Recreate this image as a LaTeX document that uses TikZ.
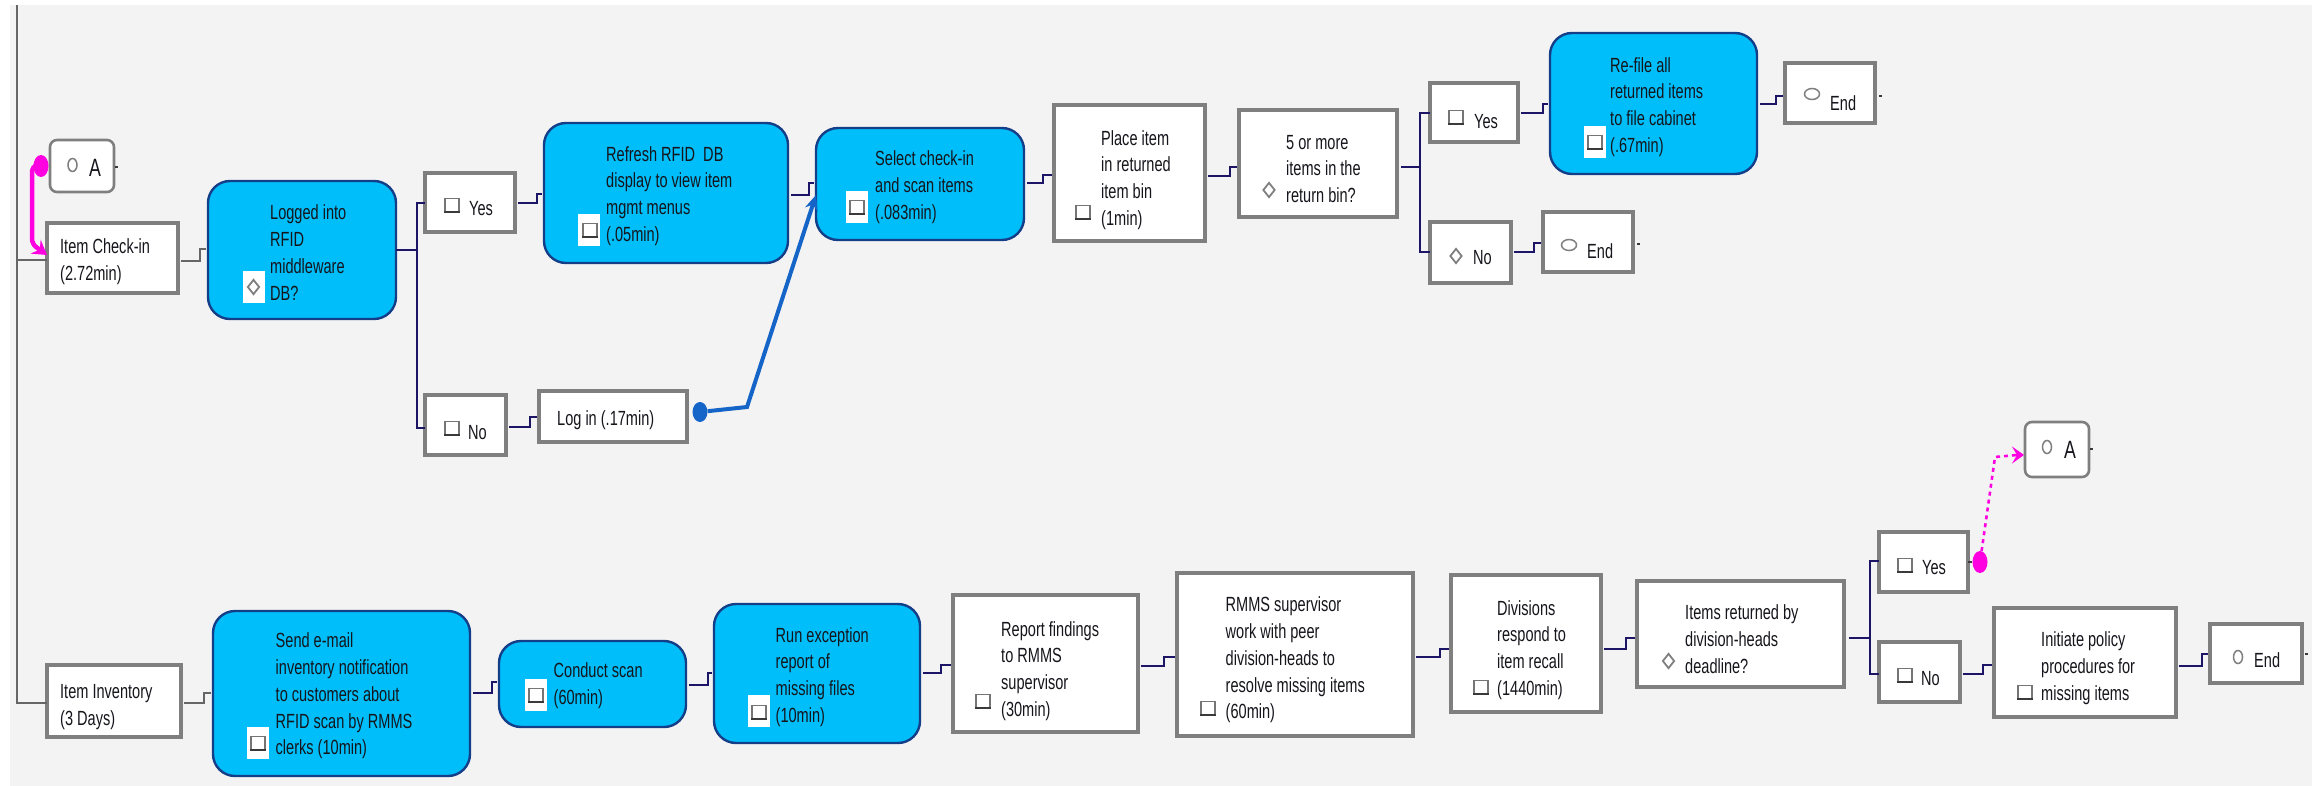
\documentclass[tikz,border=0pt]{standalone}
\usepackage{fontspec}
\usetikzlibrary{arrows.meta,shapes.geometric}
\newfontfamily\narf[FakeStretch=0.71]{Liberation Sans}
\definecolor{bgc}{HTML}{F3F3F3}
\definecolor{cyanbox}{HTML}{00BEFA}
\definecolor{navyln}{HTML}{1C1464}
\definecolor{greyln}{HTML}{7F7F7F}
\definecolor{txtd}{HTML}{15151C}
\definecolor{magl}{HTML}{FF00E0}
\definecolor{bluel}{HTML}{1565C8}
\definecolor{iconl}{HTML}{3A3A3A}
\tikzset{
  x=1pt,y=-1pt,
  whitebox/.style={draw=greyln,fill=white,line width=3.2pt,inner sep=0pt,outer sep=0pt},
  cyanb/.style={draw=navyln!75!cyanbox,fill=cyanbox,line width=2.4pt,rounded corners=22pt,inner sep=0pt,outer sep=0pt},
  roundb/.style={draw=greyln,fill=white,line width=2.6pt,rounded corners=7pt,inner sep=0pt,outer sep=0pt},
  lbl/.style={anchor=west,align=left,inner sep=0pt,text=txtd,font=\narf\fontsize{20.5}{26.8}\selectfont},
  bigl/.style={anchor=west,align=left,inner sep=0pt,text=txtd,font=\narf\fontsize{25}{26}\selectfont},
  conn/.style={draw=navyln,line width=2.6pt},
  gconn/.style={draw=greyln!80!black,line width=2pt},
  patchi/.style={fill=white,draw=none,inner sep=0pt,minimum width=22pt,minimum height=32pt},
  booki/.style={draw=iconl!70!white,fill=white,line width=1.2pt,inner sep=0pt,minimum width=14pt,minimum height=13pt},
  diai/.style={diamond,draw=gray,fill=white,line width=1.8pt,inner sep=0pt,minimum width=12pt,minimum height=15pt},
  ovalv/.style={ellipse,draw=gray,fill=white,line width=1.5pt,inner sep=0pt,minimum width=9pt,minimum height=13pt},
  ovalh/.style={ellipse,draw=gray,fill=white,line width=1.5pt,inner sep=0pt,minimum width=15pt,minimum height=11pt},
  magd/.style={ellipse,fill=magl,inner sep=0pt,minimum width=15pt,minimum height=22pt},
  blued/.style={ellipse,fill=bluel,inner sep=0pt,minimum width=15pt,minimum height=20pt},
  tick/.style={draw=iconl,line width=1.6pt},
}
\newcommand{\bx}[6]{% style,name,x0,y0,x1,y1
  \pgfmathsetmacro{\cxx}{(#3+#5)/2}\pgfmathsetmacro{\cyy}{(#4+#6)/2}
  \pgfmathsetmacro{\ww}{#5-#3}\pgfmathsetmacro{\hh}{#6-#4}
  \node[#1,minimum width=\ww pt,minimum height=\hh pt] (#2) at (\cxx,\cyy) {};}
\newcommand{\stair}[6][conn]{% style,from,to,y1,y2,xmid
  \coordinate (sa) at (#6,#4); \coordinate (sb) at (#6,#5);
  \draw[#1] ([xshift=3pt]#2.east |- sa) -- (sa) -- (sb) -- ([xshift=-2pt]#3.west |- sb);}
\newcommand{\ibook}[3]{\node[booki] (#1) at (#2,#3) {};
  \draw[draw=iconl,line width=2.6pt] (#1.south west) -- (#1.south east);}
\newcommand{\iendtick}[3]{\coordinate (tk) at (0,#3);
  \draw[tick] ([xshift=#2pt]#1.east |- tk) -- ++(3,0);}
\begin{document}
\begin{tikzpicture}
\useasboundingbox (0,0) rectangle (2317,786);
\fill[white] (0,0) rectangle (2317,786);
\fill[bgc] (10,5) rectangle (2312,786);
% boxes
\bx{roundb}{Aone}{50}{140}{114}{192}
\bx{whitebox}{check}{47}{223}{178}{293}
\bx{cyanb}{logged}{208}{181}{396}{319}
\bx{whitebox}{yesa}{425}{173}{515}{232}
\bx{cyanb}{refresh}{544}{123}{788}{263}
\bx{cyanb}{select}{816}{128}{1024}{240}
\bx{whitebox}{place}{1054}{105}{1205}{241}
\bx{whitebox}{five}{1239}{110}{1397}{217}
\bx{whitebox}{yesb}{1430}{83}{1518}{142}
\bx{cyanb}{refile}{1550}{33}{1757}{174}
\bx{whitebox}{enda}{1785}{63}{1875}{123}
\bx{whitebox}{nob}{1430}{222}{1511}{283}
\bx{whitebox}{endb}{1543}{212}{1633}{272}
\bx{whitebox}{noa}{425}{395}{506}{455}
\bx{whitebox}{login}{539}{391}{687}{442}
\bx{whitebox}{inv}{47}{665}{181}{737}
\bx{cyanb}{send}{213}{611}{470}{776}
\bx{cyanb}{conduct}{499}{641}{686}{727}
\bx{cyanb}{run}{714}{604}{920}{743}
\bx{whitebox}{report}{953}{595}{1138}{732}
\bx{whitebox}{rmms}{1177}{573}{1413}{736}
\bx{whitebox}{divs}{1451}{575}{1601}{712}
\bx{whitebox}{items}{1637}{581}{1844}{687}
\bx{whitebox}{yesc}{1879}{532}{1968}{592}
\bx{roundb}{Atwo}{2025}{422}{2089}{477}
\bx{whitebox}{noc}{1879}{642}{1960}{702}
\bx{whitebox}{initiate}{1994}{608}{2176}{717}
\bx{whitebox}{endc}{2210}{624}{2302}{683}
% left rail
\coordinate (railt) at (16.5,5); \coordinate (railm) at (16.5,260); \coordinate (railb) at (16.5,703);
\draw[gconn] (railt) -- (railb) -- (inv.west |- railb);
\draw[gconn] (railm) -- (check.west |- railm);
% connectors
\stair[gconn]{check}{logged}{261}{249}{200}
\coordinate (bA) at (417,250); \coordinate (yA) at (417,203); \coordinate (nA) at (417,428);
\draw[conn] (logged.east |- bA) -- (bA);
\draw[conn,line width=2pt] (yesa.west |- yA) -- (yA) -- (nA) -- (noa.west |- nA);
\stair{yesa}{refresh}{203}{194}{537}
\stair{noa}{login}{427}{417}{530}
\stair{refresh}{select}{195}{183}{809}
\stair{select}{place}{183}{175}{1043}
\stair{place}{five}{176}{167}{1230}
\coordinate (bB) at (1420,167); \coordinate (yB) at (1420,113); \coordinate (nB) at (1420,252);
\draw[conn] ([xshift=4pt]five.east |- bB) -- (bB);
\draw[conn,line width=2pt] (yesb.west |- yB) -- (yB) -- (nB) -- (nob.west |- nB);
\stair{yesb}{refile}{113}{104}{1543}
\stair{refile}{enda}{104}{96}{1776}
\stair{nob}{endb}{252}{243}{1534}
\iendtick{enda}{4}{96}
\iendtick{endb}{4}{244}
\iendtick{Aone}{1}{167}
\stair[gconn]{inv}{send}{703}{693}{204}
\stair{send}{conduct}{693}{682}{492}
\stair{conduct}{run}{685}{673}{708}
\stair{run}{report}{673}{665}{941}
\stair{report}{rmms}{666}{657}{1164}
\stair{rmms}{divs}{657}{649}{1440}
\stair{divs}{items}{649}{638}{1626}
\coordinate (bC) at (1870,638); \coordinate (yC) at (1870,561); \coordinate (nC) at (1870,674);
\draw[conn] ([xshift=5pt]items.east |- bC) -- (bC);
\draw[conn,line width=2pt] (yesc.west |- yC) -- (yC) -- (nC) -- (noc.west |- nC);
\stair{noc}{initiate}{674}{665}{1983}
\stair{initiate}{endc}{666}{654}{2202}
\iendtick{endc}{3}{654}
\iendtick{Atwo}{1}{449}
% special links
\node[blued] (dotblue) at (700,412) {};
\coordinate (bendb) at (747,407); \coordinate (hb) at (0,195);
\draw[bluel,line width=4pt,-{Stealth[length=15pt,width=13pt]}] (dotblue) -- (bendb) -- (select.west |- hb);
\node[magd] (dotmaga) at (41,166) {};
\coordinate (ma) at (32,166); \coordinate (mb) at (32,244); \coordinate (mc) at (0,255);
\draw[magl,line width=4.5pt,rounded corners=5pt,-{Stealth[length=14pt,width=17pt,inset=5pt]}] (dotmaga) -- (ma) -- (mb) -- (check.west |- mc);
\node[magd] (dotmagb) at (1980,562) {};
\draw[iconl,line width=1.4pt] (yesc.east |- dotmagb) -- (dotmagb.west);
\coordinate (md) at (1995,457); \coordinate (me) at (0,455);
\draw[magl,line width=2.6pt,dash pattern=on 4pt off 4pt] (dotmagb) -- (md) -- ([xshift=-8pt]Atwo.west |- me);
\draw[magl,line width=2.6pt,-{Stealth[length=12pt,width=17pt,inset=5pt]}] ([xshift=-10pt]Atwo.west |- me) -- ([xshift=-1pt]Atwo.west |- me);
% icons
\node[patchi] (p1) at (253.5,287) {};
\node[patchi] (p2) at (589,230) {};
\node[patchi] (p3) at (857,207) {};
\node[patchi] (p4) at (1595,142) {};
\node[patchi] (p5) at (257.5,743) {};
\node[patchi] (p6) at (535.5,695) {};
\node[patchi] (p7) at (758.5,711) {};
\node[diai] (i1) at (253.5,287) {};
\node[ovalv] (i2) at (72.5,165) {};
\ibook{i3}{452}{205}
\ibook{i4}{590}{230}
\ibook{i5}{857}{207}
\ibook{i6}{1083}{212}
\node[diai] (i7) at (1269,190) {};
\ibook{i8}{1456}{117}
\ibook{i9}{1595}{142}
\node[ovalh] (i10) at (1812,94) {};
\node[diai] (i11) at (1456,256) {};
\node[ovalh] (i12) at (1569,245) {};
\ibook{i13}{452}{428}
\ibook{i14}{258}{743}
\ibook{i15}{536}{695}
\ibook{i16}{759}{712}
\ibook{i17}{983}{701}
\ibook{i18}{1208}{708}
\ibook{i19}{1481}{687}
\node[diai] (i20) at (1668.5,661) {};
\ibook{i21}{1905}{565}
\node[ovalv] (i22) at (2047,447) {};
\ibook{i23}{1905}{675}
\ibook{i24}{2025}{692}
\node[ovalv] (i25) at (2238,657) {};
% texts
\node[bigl] (tA) at (89,168) {A};
\node[lbl] (t1) at (60,262) {Item Check-in\\(2.72min)};
\node[lbl] (t2) at (270,252.5) {Logged into\\RFID\\middleware\\DB?};
\node[lbl] (t3) at (469,209) {Yes};
\node[lbl] (t4) at (606,196) {Refresh RFID\ \ DB\\display to view item\\mgmt menus\\(.05min)};
\node[lbl] (t5) at (875,187) {Select check-in\\and scan items\\(.083min)};
\node[lbl] (t6) at (1101,180) {Place item\\in returned\\item bin\\(1min)};
\node[lbl] (t7) at (1286,169) {5 or more\\items in the\\return bin?};
\node[lbl] (t8) at (1474,122) {Yes};
\node[lbl] (t9) at (1610,107) {Re-file all\\returned items\\to file cabinet\\(.67min)};
\node[lbl] (t10) at (1830,103) {End};
\node[lbl] (t11) at (1473,258) {No};
\node[lbl] (t12) at (1587,251) {End};
\node[lbl] (t13) at (468,433) {No};
\node[lbl] (t14) at (557,420) {Log in (.17min)};
\node[lbl] (t15) at (60,707) {Item Inventory\\(3 Days)};
\node[lbl] (t16) at (275.5,696) {Send e-mail\\inventory notification\\to customers about\\RFID scan by RMMS\\clerks (10min)};
\node[lbl] (t17) at (553.5,686) {Conduct scan\\(60min)};
\node[lbl] (t18) at (775.5,677) {Run exception\\report of\\missing files\\(10min)};
\node[lbl] (t19) at (1001,671) {Report findings\\to RMMS\\supervisor\\(30min)};
\node[lbl] (t20) at (1225.5,660) {RMMS supervisor\\work with peer\\division-heads to\\resolve missing items\\(60min)};
\node[lbl] (t21) at (1497,650) {Divisions\\respond to\\item recall\\(1440min)};
\node[lbl] (t22) at (1685,639) {Items returned by\\division-heads\\deadline?};
\node[lbl] (t23) at (1922,568) {Yes};
\node[bigl] (tB) at (2064,450) {A};
\node[lbl] (t24) at (1921,679) {No};
\node[lbl] (t25) at (2041,668) {Initiate policy\\procedures for\\missing items};
\node[lbl] (t26) at (2254,660) {End};
\end{tikzpicture}
\end{document}
